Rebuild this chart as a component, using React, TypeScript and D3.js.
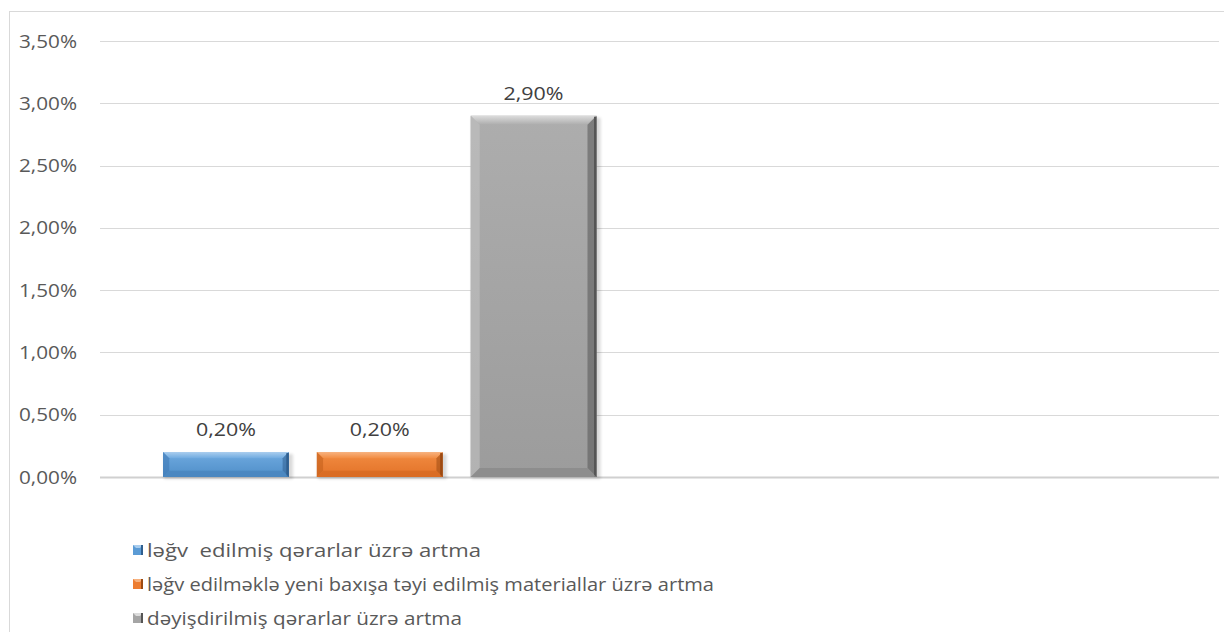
import React from "react";
import * as d3 from "d3";

const categories = ["A", "B"];
const seriesNames = [
  "ləğv  edilmiş qərarlar üzrə artma",
  "ləğv edilməklə yeni baxışa təyi edilmiş materiallar üzrə artma",
  "dəyişdirilmiş qərarlar üzrə artma",
];
const seriesValues: (number | null)[][] = [
  [0.002, null],
  [0.002, null],
  [0.029, null],
];
const yTicks = [0, 0.005, 0.01, 0.015, 0.02, 0.025, 0.03, 0.035];

const colors = [
  { base: "#5B9BD5", hi: "#6FAAE0", lo: "#4F8EC8", top: "#A9CDEE", left: "#3F7AB5", right: "#2F5F8F", bottom: "#4A86BE" },
  { base: "#ED7D31", hi: "#F28C42", lo: "#E27228", top: "#F7B27F", left: "#C4601C", right: "#9C4A12", bottom: "#D76A22" },
  { base: "#A5A5A5", hi: "#ADADAD", lo: "#9C9C9C", top: "#DCDCDC", left: "#C2C2C2", right: "#555555", bottom: "#8A8A8A" },
];

const fmt = (v: number) => (v * 100).toFixed(2).replace(".", ",") + "%";

export default function App() {
  const W = 1224, H = 632;
  const x0 = 100, x1 = 1219;
  const y = d3.scaleLinear().domain([0, 0.035]).range([477, 41]);
  const xBand = d3.scaleBand().domain(categories).range([x0, x1]).paddingInner(0).paddingOuter(0);
  const inner = d3.scaleBand().domain(seriesNames).range([63, xBand.bandwidth() - 63]).paddingInner(0.182).paddingOuter(0);

  const bars: JSX.Element[] = [];
  const labels: JSX.Element[] = [];
  seriesValues.forEach((vals, si) => {
    vals.forEach((v, ci) => {
      if (v == null) return;
      const bx = (xBand(categories[ci]) as number) + (inner(seriesNames[si]) as number);
      const bw = inner.bandwidth();
      const by = y(v);
      const bh = y(0) - by;
      const c = colors[si];
      const bev = Math.min(9, bh / 4);
      const key = `${si}-${ci}`;
      bars.push(
        <g key={key}>
          <rect x={bx + 1} y={by + 2} width={bw + 3} height={bh} fill="#000" opacity={0.15} filter="url(#blur)" />
          <rect x={bx} y={by} width={bw} height={bh} fill={`url(#g${si})`} />
          <polygon points={`${bx},${by} ${bx + bw},${by} ${bx + bw - bev},${by + bev} ${bx + bev},${by + bev}`} fill={`url(#t${si})`} />
          <polygon points={`${bx},${by} ${bx + bev},${by + bev} ${bx + bev},${by + bh - bev} ${bx},${by + bh}`} fill={c.left} opacity={0.6} />
          <polygon points={`${bx + bw},${by} ${bx + bw - bev},${by + bev} ${bx + bw - bev},${by + bh - bev} ${bx + bw},${by + bh}`} fill={c.right} opacity={0.55} />
          <rect x={bx + bw - 2.5} y={by + 1} width={2.5} height={bh - 1} fill={c.right} />
          <polygon points={`${bx},${by + bh} ${bx + bev},${by + bh - bev} ${bx + bw - bev},${by + bh - bev} ${bx + bw},${by + bh}`} fill={c.bottom} opacity={0.8} />
        </g>
      );
      labels.push(
        <text key={"l" + key} x={bx + bw / 2} y={by - 16} textAnchor="middle" fontSize={19} fill="#404040"
          textLength={60} lengthAdjust="spacingAndGlyphs">
          {fmt(v)}
        </text>
      );
    });
  });

  const legendY = [550, 584, 618];
  const legendW = [334, 567, 315];

  return (
    <svg width={W} height={H} style={{ position: "absolute", left: 0, top: 0, background: "#fff" }}
      fontFamily="'Open Sans', 'Liberation Sans', sans-serif">
      <defs>
        <filter id="blur" x="-10%" y="-10%" width="120%" height="120%">
          <feGaussianBlur stdDeviation="1.8" />
        </filter>
        {colors.map((c, i) => (
          <React.Fragment key={i}>
            <linearGradient id={`g${i}`} x1="0" y1="0" x2="0" y2="1">
              <stop offset="0" stopColor={c.hi} />
              <stop offset="1" stopColor={c.lo} />
            </linearGradient>
            <linearGradient id={`t${i}`} x1="0" y1="0" x2="0" y2="1">
              <stop offset="0" stopColor={c.top} />
              <stop offset="1" stopColor={c.hi} />
            </linearGradient>
          </React.Fragment>
        ))}
      </defs>
      <rect x={9.5} y={11.5} width={1230} height={640} fill="#fff" stroke="#d9d9d9" strokeWidth={1} />
      {yTicks.map((t) => (
        <g key={t}>
          <line x1={x0} x2={x1} y1={Math.round(y(t)) + 0.5} y2={Math.round(y(t)) + 0.5}
            stroke={t === 0 ? "#d0d0d0" : "#d9d9d9"} strokeWidth={t === 0 ? 2 : 1.2} />
          <text x={77} y={y(t) + 6.5} textAnchor="end" fontSize={19} fill="#595959"
            textLength={58} lengthAdjust="spacingAndGlyphs">{fmt(t)}</text>
        </g>
      ))}
      {bars}
      {labels}
      {seriesNames.map((n, i) => (
        <g key={n}>
          <rect x={133} y={legendY[i] - 5} width={10} height={10} fill={colors[i].base} />
          <polygon points={`${133},${legendY[i] - 5} ${143},${legendY[i] - 5} ${140},${legendY[i] - 2} ${136},${legendY[i] - 2}`} fill={colors[i].top} />
          <rect x={141} y={legendY[i] - 5} width={2} height={10} fill={colors[i].right} />
          <text x={147} y={legendY[i] + 6.5} fontSize={19} fill="#595959" style={{ whiteSpace: "pre" }}
            textLength={legendW[i]} lengthAdjust="spacingAndGlyphs">{n}</text>
        </g>
      ))}
    </svg>
  );
}
